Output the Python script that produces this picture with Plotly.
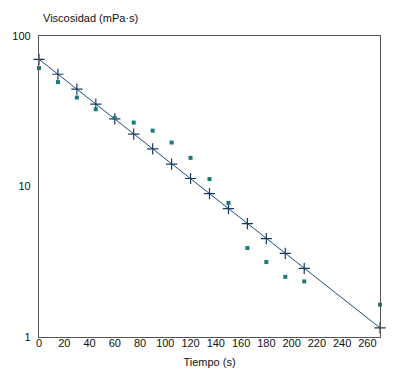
import plotly.graph_objects as go

# Measured data (teal squares)
t_meas = [0, 15, 30, 45, 60, 75, 90, 105, 120, 135, 150, 165, 180, 195, 210, 270]
v_meas = [61.2, 49.4, 39.0, 32.6, 28.5, 26.6, 23.5, 19.6, 15.5, 11.2, 7.78, 3.90, 3.15, 2.51, 2.34, 1.64]

# Fitted values (crosses on the line)
t_fit = [0, 15, 30, 45, 60, 75, 90, 105, 120, 135, 150, 165, 180, 195, 210, 270]
v_fit = [70.0, 55.7, 44.3, 35.3, 28.1, 22.3, 17.8, 14.1, 11.3, 8.96, 7.13, 5.67, 4.51, 3.59, 2.86, 1.15]

x_ticks = list(range(0, 261, 20))
y_ticks = [1, 10, 100]

font = dict(family="Liberation Sans, Arial, sans-serif", size=11, color="#111111")

fig = go.Figure()
fig.add_trace(go.Scatter(
    x=t_fit, y=v_fit, mode="lines+markers",
    line=dict(color="#1f4e79", width=1),
    marker=dict(symbol="cross-thin", size=8, line=dict(color="#1b3a63", width=1.2), color="#1b3a63"),
    showlegend=False, cliponaxis=False,
))
fig.add_trace(go.Scatter(
    x=t_meas, y=v_meas, mode="markers",
    marker=dict(symbol="square", size=4, color="#1a7a78"),
    showlegend=False, cliponaxis=False,
))

fig.update_layout(
    width=408, height=380,
    margin=dict(l=31, r=36, t=28, b=51),
    paper_bgcolor="white", plot_bgcolor="white",
    font=font,
    xaxis=dict(
        range=[0, 270], tickvals=x_ticks, ticktext=[str(v) for v in x_ticks],
        showgrid=False, zeroline=False, showline=True, mirror=True, automargin=False,
        linecolor="#555555", linewidth=1.2, ticks="", ticklabelstandoff=-4,
        title=dict(text="Tiempo (s)", standoff=10, font=font),
    ),
    yaxis=dict(
        type="log", range=[0, 2], tickvals=y_ticks, ticktext=[str(v) for v in y_ticks],
        showgrid=False, zeroline=False, showline=True, mirror=True, automargin=False,
        linecolor="#555555", linewidth=1.2, ticks="", ticklabelstandoff=5,
    ),
    annotations=[dict(
        text="Viscosidad (mPa·s)", xref="paper", yref="paper", x=0, y=1,
        xanchor="left", yanchor="bottom", yshift=10, xshift=2, showarrow=False, font=font,
    )],
)

fig.write_html("out.html")
